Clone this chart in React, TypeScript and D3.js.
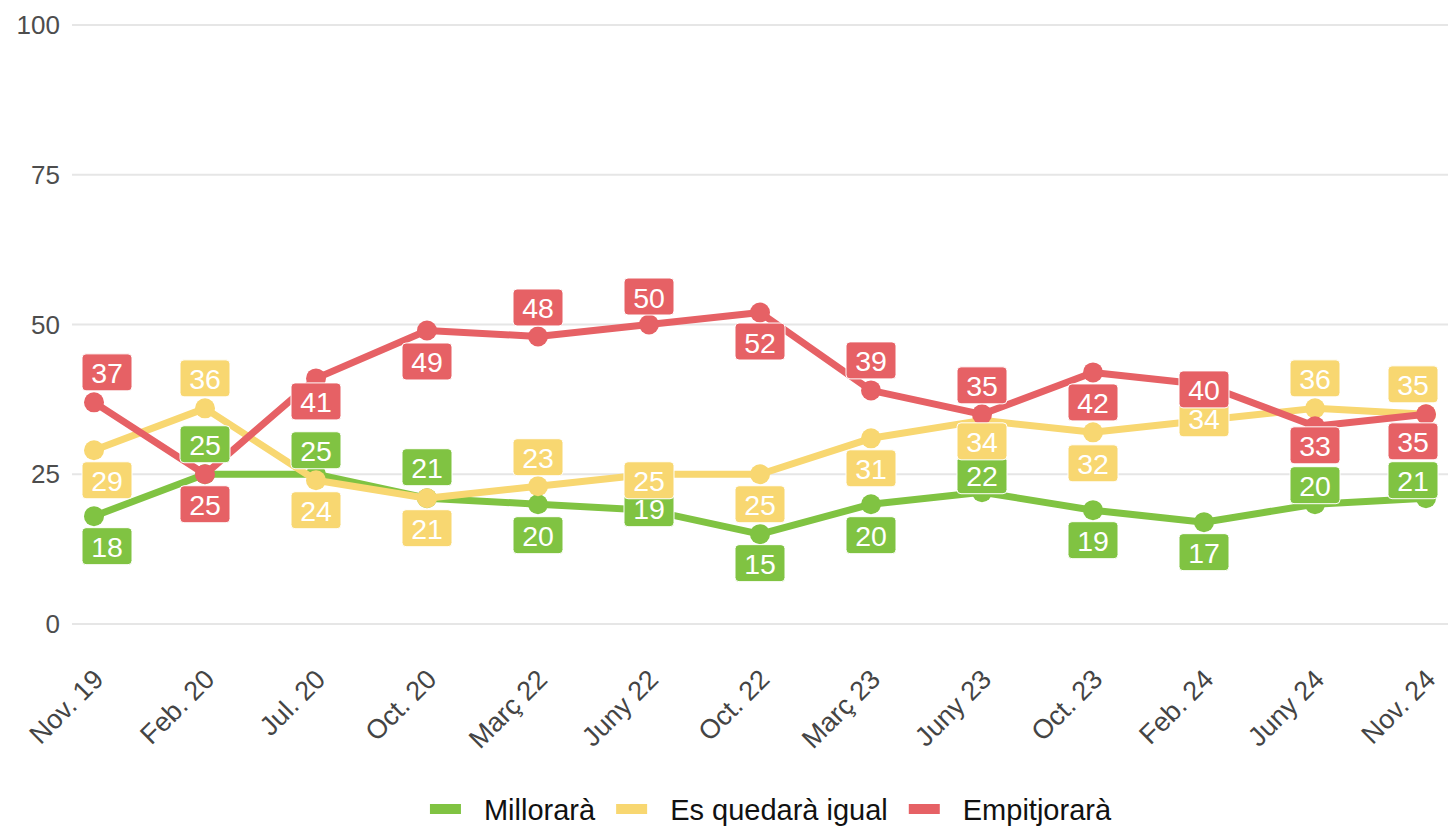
import React from "react";
import * as d3 from "d3";

const categories = [
  "Nov. 19", "Feb. 20", "Jul. 20", "Oct. 20", "Març 22", "Juny 22", "Oct. 22",
  "Març 23", "Juny 23", "Oct. 23", "Feb. 24", "Juny 24", "Nov. 24",
];
const millorara = [18, 25, 25, 21, 20, 19, 15, 20, 22, 19, 17, 20, 21];
const igual = [29, 36, 24, 21, 23, 25, 25, 31, 34, 32, 34, 36, 35];
const empitjorara = [37, 25, 41, 49, 48, 50, 52, 39, 35, 42, 40, 33, 35];
const yTicks = [0, 25, 50, 75, 100];
const seriesNames = ["Millorarà", "Es quedarà igual", "Empitjorarà"];

// label placement (pixel offsets from point, style only)
const greenLabelDy = [30, -30, -24, -31, 31, -2, 29, 31, -17, 30, 30, -19, -18];
const yellowLabelDy = [30, -30, 30, 30, -29, 6, 30, 30, 21, 31, -2, -30, -30];
const redLabelDy = [-30, 30, 23, 31, -29, -28, 29, -30, -29, 30, 5, 19, 27];

const W = 1448;
const H = 828;
const FONT = "'Liberation Sans', Arial, sans-serif";
const colors = ["#80c342", "#f8d771", "#e66165"];

function measure(text: string, size: number): number {
  const c = document.createElement("canvas").getContext("2d");
  if (!c) return text.length * size * 0.55;
  c.font = `${size}px 'Liberation Sans', Arial, sans-serif`;
  return c.measureText(text).width;
}

export default function App() {
  const x = d3.scalePoint<string>().domain(categories).range([94, 1426]);
  const y = d3.scaleLinear().domain([0, 100]).range([624, 25]);
  const series = [
    { name: seriesNames[0], values: millorara, color: colors[0], dy: greenLabelDy },
    { name: seriesNames[1], values: igual, color: colors[1], dy: yellowLabelDy },
    { name: seriesNames[2], values: empitjorara, color: colors[2], dy: redLabelDy },
  ];
  const line = d3
    .line<number>()
    .x((_, i) => x(categories[i]) as number)
    .y((d) => y(d));

  const boxW = 50;
  const boxH = 37;
  const clampX = (v: number) => Math.max(82 + boxW / 2, Math.min(1438 - boxW / 2, v));

  // legend layout
  const legSize = 29;
  const swW = 31;
  const swGap = 23;
  const itemGap = 21;
  const widths = seriesNames.map((n) => measure(n, legSize));
  const total = widths.reduce((a, w) => a + swW + swGap + w, 0) + itemGap * (seriesNames.length - 1);
  let lx = 770.5 - total / 2;
  const legendItems = seriesNames.map((n, i) => {
    const item = { name: n, color: colors[i], x: lx };
    lx += swW + swGap + widths[i] + itemGap;
    return item;
  });

  return (
    <svg
      width={W}
      height={H}
      style={{ position: "absolute", left: 0, top: 0, background: "#fff" }}
      fontFamily={FONT}
    >
      <g>
        {yTicks.map((t) => (
          <g key={t}>
            <line x1={72} x2={W} y1={y(t)} y2={y(t)} stroke="#e6e6e6" strokeWidth={2} />
            <text
              x={60}
              y={y(t)}
              textAnchor="end"
              dominantBaseline="central"
              fontSize={26}
              fill="#4d4d4d"
            >
              {t}
            </text>
          </g>
        ))}
      </g>
      <g>
        {categories.map((c) => {
          const cx = (x(c) as number) + 11;
          const cy = 681;
          return (
            <text
              key={c}
              x={cx}
              y={cy}
              textAnchor="end"
              fontSize={27}
              fill="#444"
              transform={`rotate(-45 ${cx} ${cy})`}
            >
              {c}
            </text>
          );
        })}
      </g>
      {series.map((s) => (
        <g key={s.name}>
          <path d={line(s.values) || ""} fill="none" stroke={s.color} strokeWidth={7} strokeLinejoin="round" />
          {s.values.map((v, i) => (
            <circle key={i} cx={x(categories[i]) as number} cy={y(v)} r={10} fill={s.color} />
          ))}
        </g>
      ))}
      {series.map((s) => (
        <g key={s.name + "-labels"}>
          {s.values.map((v, i) => {
            const cx = clampX(x(categories[i]) as number);
            const cy = y(v) + s.dy[i];
            return (
              <g key={i}>
                <rect
                  x={cx - boxW / 2}
                  y={cy - boxH / 2}
                  width={boxW}
                  height={boxH}
                  rx={4}
                  fill={s.color}
                  stroke="#fff"
                  strokeWidth={1}
                />
                <text
                  x={cx}
                  y={cy + 1}
                  textAnchor="middle"
                  dominantBaseline="central"
                  fontSize={28.5}
                  fill="#fff"
                >
                  {v}
                </text>
              </g>
            );
          })}
        </g>
      ))}
      <g>
        {legendItems.map((it) => (
          <g key={it.name}>
            <rect x={it.x} y={804} width={swW} height={10} fill={it.color} />
            <text
              x={it.x + swW + swGap}
              y={810}
              dominantBaseline="central"
              fontSize={legSize}
              fill="#111"
            >
              {it.name}
            </text>
          </g>
        ))}
      </g>
    </svg>
  );
}
